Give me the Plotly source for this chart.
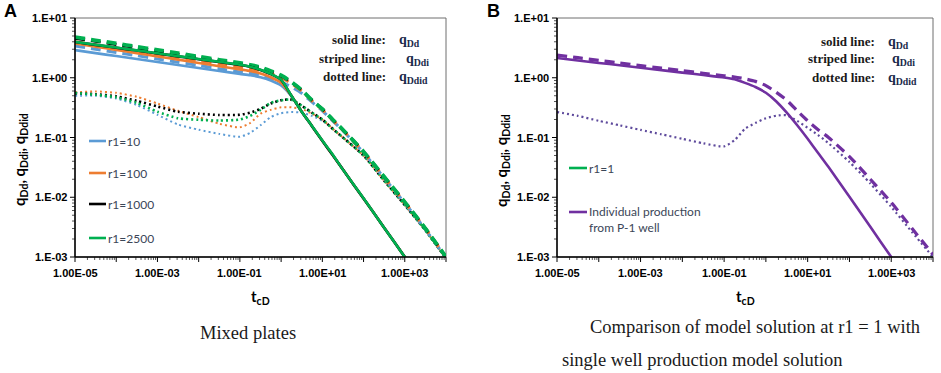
import math
import plotly.graph_objects as go

# ---------------- data ----------------
tD = [1e-5, 3.16e-5, 1e-4, 3.16e-4, 1e-3, 3.16e-3, 1e-2, 3.16e-2, 0.1, 0.178, 0.316, 0.562,
      1, 1.78, 3.16, 5.62, 10, 17.8, 31.6, 100, 316, 1000, 3160, 10000]

# Panel A : solid q_Dd
qDd_r10   = [2.9, 2.58, 2.31, 2.06, 1.83, 1.63, 1.46, 1.30, 1.16, 1.10, 1.02, 0.90, 0.74, 0.49, 0.27, 0.155, 0.088, 0.051, 0.029, 0.0095, 0.0031, 0.001, 0.00032, 0.0001]
qDd_r100  = [3.75, 3.31, 2.92, 2.58, 2.28, 2.01, 1.77, 1.56, 1.38, 1.30, 1.18, 1.02, 0.82, 0.50, 0.27, 0.155, 0.088, 0.051, 0.029, 0.0095, 0.0031, 0.001, 0.00032, 0.0001]
qDd_r1000 = [3.96, 3.55, 3.18, 2.85, 2.55, 2.28, 2.04, 1.83, 1.63, 1.52, 1.35, 1.15, 0.92, 0.50, 0.27, 0.155, 0.088, 0.051, 0.029, 0.0095, 0.0031, 0.001, 0.00032, 0.0001]
qDd_r2500 = [3.98, 3.57, 3.20, 2.87, 2.57, 2.30, 2.06, 1.85, 1.65, 1.53, 1.36, 1.16, 0.93, 0.50, 0.27, 0.156, 0.089, 0.052, 0.029, 0.0096, 0.0031, 0.001, 0.00032, 0.0001]
# Panel A : striped q_Ddi
qDdi_r10   = [3.4, 3.0, 2.65, 2.34, 2.06, 1.82, 1.61, 1.42, 1.25, 1.19, 1.10, 0.98, 0.85, 0.70, 0.55, 0.39, 0.28, 0.19, 0.13, 0.056, 0.021, 0.008, 0.0029, 0.00097]
qDdi_r100  = [4.0, 3.54, 3.13, 2.77, 2.45, 2.17, 1.92, 1.69, 1.50, 1.42, 1.32, 1.18, 1.0, 0.80, 0.60, 0.41, 0.29, 0.195, 0.132, 0.057, 0.0215, 0.0082, 0.003, 0.00099]
qDdi_r1000 = [4.6, 4.07, 3.6, 3.18, 2.8, 2.48, 2.18, 1.92, 1.70, 1.59, 1.45, 1.27, 1.07, 0.84, 0.62, 0.42, 0.30, 0.20, 0.135, 0.058, 0.022, 0.0083, 0.003, 0.001]
qDdi_r2500 = [4.8, 4.24, 3.75, 3.31, 2.92, 2.58, 2.27, 2.0, 1.77, 1.65, 1.50, 1.30, 1.10, 0.85, 0.62, 0.42, 0.30, 0.20, 0.135, 0.058, 0.022, 0.0083, 0.003, 0.001]
# Panel A : dotted q_Ddid
qDdid_r10   = [0.50, 0.50, 0.45, 0.35, 0.24, 0.165, 0.135, 0.115, 0.103, 0.12, 0.16, 0.22, 0.255, 0.267, 0.26, 0.23, 0.19, 0.14, 0.10, 0.05, 0.019, 0.0074, 0.0028, 0.00095]
qDdid_r100  = [0.57, 0.59, 0.56, 0.48, 0.37, 0.28, 0.22, 0.17, 0.148, 0.175, 0.25, 0.29, 0.32, 0.32, 0.30, 0.25, 0.20, 0.14, 0.10, 0.05, 0.019, 0.0074, 0.0028, 0.00095]
qDdid_r1000 = [0.55, 0.53, 0.49, 0.41, 0.33, 0.27, 0.25, 0.238, 0.24, 0.26, 0.30, 0.37, 0.42, 0.43, 0.34, 0.26, 0.20, 0.14, 0.10, 0.05, 0.019, 0.0074, 0.0028, 0.00095]
qDdid_r2500 = [0.556, 0.52, 0.47, 0.38, 0.27, 0.21, 0.198, 0.192, 0.20, 0.23, 0.29, 0.38, 0.42, 0.43, 0.34, 0.26, 0.20, 0.14, 0.10, 0.05, 0.019, 0.0074, 0.0028, 0.00095]

# Panel B : r1 = 1
qDd_r1   = [2.14, 1.95, 1.77, 1.62, 1.47, 1.34, 1.22, 1.11, 1.01, 0.94, 0.82, 0.70, 0.56, 0.40, 0.26, 0.16, 0.095, 0.055, 0.032, 0.0102, 0.0032, 0.001, 0.00032, 0.0001]
qDdi_r1  = [2.4, 2.17, 1.95, 1.77, 1.6, 1.45, 1.32, 1.19, 1.08, 1.03, 0.96, 0.87, 0.74, 0.57, 0.42, 0.28, 0.19, 0.135, 0.10, 0.048, 0.02, 0.0082, 0.003, 0.0011]
qDdid_r1 = [0.267, 0.23, 0.19, 0.16, 0.134, 0.113, 0.095, 0.08, 0.071, 0.09, 0.14, 0.175, 0.21, 0.232, 0.235, 0.19, 0.145, 0.11, 0.08, 0.039, 0.017, 0.0069, 0.0026, 0.001]

x_tickvals = [1e-5, 1e-3, 1e-1, 10, 1000]
x_ticktext = ["1.00E-05", "1.00E-03", "1.00E-01", "1.00E+01", "1.00E+03"]
y_tickvals = [1e-3, 1e-2, 1e-1, 1, 10]
y_ticktext = ["1.E-03", "1.E-02", "1.E-01", "1.E+00", "1.E+01"]

legend_A = ["r1=10", "r1=100", "r1=1000", "r1=2500"]
legend_B = ["r1=1", "Individual production<br>from P-1 well"]

# ---------------- styling ----------------
W, H = 941, 373
XR = [-5, 4]
YR = [-3, 1]
BLUE, ORANGE, BLACK, GREEN = "#5B9BD5", "#ED7D31", "#000000", "#00B050"
PURPLE, PURPLE_DOT = "#7030A0", "#5E4A9C"
colorsA = [BLUE, ORANGE, BLACK, GREEN]

def px(x):
    return x / W

def py(y):
    return 1 - y / H

def fx(v):
    return (math.log10(v) - XR[0]) / (XR[1] - XR[0])

def fy(v):
    return (math.log10(v) - YR[0]) / (YR[1] - YR[0])

fig = go.Figure()

solidA = [qDd_r10, qDd_r100, qDd_r1000, qDd_r2500]
dashA = [qDdi_r10, qDdi_r100, qDdi_r1000, qDdi_r2500]
dotA = [qDdid_r10, qDdid_r100, qDdid_r1000, qDdid_r2500]

for i, (ys, c) in enumerate(zip(dotA, colorsA)):
    w = 2.0 if i < 2 else 2.6
    fig.add_trace(go.Scatter(x=tD, y=ys, mode="lines", line=dict(color=c, width=w, dash="2px,3px", shape="spline", smoothing=0.6),
                             showlegend=False, xaxis="x", yaxis="y", hoverinfo="skip"))
for i, (ys, c) in enumerate(zip(dashA, colorsA)):
    w = 3.0 if i < 3 else 3.8
    fig.add_trace(go.Scatter(x=tD, y=ys, mode="lines", line=dict(color=c, width=w, dash="10px,6px", shape="spline", smoothing=0.6),
                             showlegend=False, xaxis="x", yaxis="y", hoverinfo="skip"))
for i, (ys, c) in enumerate(zip(solidA, colorsA)):
    fig.add_trace(go.Scatter(x=tD, y=ys, mode="lines", line=dict(color=c, width=2.6, shape="spline", smoothing=0.6),
                             name=legend_A[i], showlegend=False, xaxis="x", yaxis="y", hoverinfo="skip"))

fig.add_trace(go.Scatter(x=tD, y=qDdid_r1, mode="lines", line=dict(color=PURPLE_DOT, width=2.2, dash="2px,3px", shape="spline", smoothing=0.6),
                         showlegend=False, xaxis="x2", yaxis="y2", hoverinfo="skip"))
fig.add_trace(go.Scatter(x=tD, y=qDdi_r1, mode="lines", line=dict(color=PURPLE, width=3.2, dash="10px,6px", shape="spline", smoothing=0.6),
                         showlegend=False, xaxis="x2", yaxis="y2", hoverinfo="skip"))
fig.add_trace(go.Scatter(x=tD, y=qDd_r1, mode="lines", line=dict(color=PURPLE, width=2.6, shape="spline", smoothing=0.6),
                         showlegend=False, xaxis="x2", yaxis="y2", hoverinfo="skip"))

yd = [py(257), py(18)]
def xax(domain, anchor):
    return dict(type="log", range=XR, domain=domain, anchor=anchor, visible=False, fixedrange=True)

def yax(domain, anchor):
    return dict(type="log", range=YR, domain=domain, anchor=anchor, visible=False, fixedrange=True)

fig.update_layout(
    autosize=True, margin=dict(l=0, r=0, t=0, b=0),
    paper_bgcolor="white", plot_bgcolor="white", showlegend=False,
    xaxis=xax([px(75), px(446)], "y"), yaxis=yax(yd, "x"),
    xaxis2=xax([px(557), px(933)], "y2"), yaxis2=yax(yd, "x2"),
)

shapes = []
ann = []
tickfont = dict(family="Liberation Sans", size=11, color="#000", weight="bold")
PH = 239  # plot-area height in px
for xr, yr, pw in (("x", "y", 371), ("x2", "y2", 376)):
    xd, ydm = xr + " domain", yr + " domain"
    # frame
    shapes.append(dict(type="rect", xref=xd, yref=ydm, x0=0, x1=1, y0=0, y1=1,
                       line=dict(color="#6e6e6e", width=1), layer="below"))
    # x ticks (major every decade, minor 2..9)
    maj = " ".join(f"M{fx(10.0 ** n):.5f},0 L{fx(10.0 ** n):.5f},{-5 / PH:.5f}" for n in range(XR[0], XR[1] + 1))
    mnr = " ".join(f"M{fx(k * 10.0 ** n):.5f},0 L{fx(k * 10.0 ** n):.5f},{-3 / PH:.5f}"
                   for n in range(XR[0], XR[1]) for k in range(2, 10))
    shapes.append(dict(type="path", xref=xd, yref=ydm, path=maj, line=dict(color="#000", width=1)))
    shapes.append(dict(type="path", xref=xd, yref=ydm, path=mnr, line=dict(color="#555", width=1)))
    # y ticks
    maj = " ".join(f"M0,{fy(10.0 ** n):.5f} L{-5 / pw:.5f},{fy(10.0 ** n):.5f}" for n in range(YR[0], YR[1] + 1))
    mnr = " ".join(f"M0,{fy(k * 10.0 ** n):.5f} L{-3 / pw:.5f},{fy(k * 10.0 ** n):.5f}"
                   for n in range(YR[0], YR[1]) for k in range(2, 10))
    shapes.append(dict(type="path", xref=xd, yref=ydm, path=maj, line=dict(color="#000", width=1)))
    shapes.append(dict(type="path", xref=xd, yref=ydm, path=mnr, line=dict(color="#555", width=1)))
    # axis lines
    shapes.append(dict(type="line", xref=xd, yref=ydm, x0=0, x1=0, y0=0, y1=1, line=dict(color="#000", width=1.5)))
    shapes.append(dict(type="line", xref=xd, yref=ydm, x0=0, x1=1, y0=0, y1=0, line=dict(color="#000", width=1.5)))
    # tick labels
    for v, t in zip(x_tickvals, x_ticktext):
        ann.append(dict(text=t, x=fx(v), y=0, xref=xd, yref=ydm, xanchor="center", yanchor="top", yshift=-8,
                        showarrow=False, font=tickfont))
    for v, t in zip(y_tickvals, y_ticktext):
        ann.append(dict(text=t, x=0, y=fy(v), xref=xd, yref=ydm, xanchor="right", yanchor="middle", xshift=-6,
                        showarrow=False, font=tickfont))

legfont = dict(family="Lato", size=12, color="#3b4657")
# legend panel A
for name, c, yy in zip(legend_A, colorsA, [141, 173, 204, 238]):
    shapes.append(dict(type="line", xref="paper", yref="paper", x0=px(89), x1=px(106), y0=py(yy), y1=py(yy),
                       line=dict(color=c, width=2.6)))
    ann.append(dict(text=name, x=px(106), y=py(yy), xref="paper", yref="paper", xanchor="left", yanchor="middle",
                    showarrow=False, font=legfont))
# legend panel B
for name, c, yy in zip(legend_B, [GREEN, PURPLE], [168, 212]):
    shapes.append(dict(type="line", xref="paper", yref="paper", x0=px(569), x1=px(587), y0=py(yy), y1=py(yy),
                       line=dict(color=c, width=2.6)))
    ann.append(dict(text=name, x=px(587), y=py(yy + (8 if "<br>" in name else 0)), xref="paper", yref="paper",
                    xanchor="left", yanchor="middle", align="left", showarrow=False, font=legfont))

# style explanation text
serif_b = dict(family="Liberation Serif", size=13, color="#1a1a1a", weight="bold")
qfont = dict(family="Liberation Serif", size=14, color="#1a2a4a", weight="bold")
for (lx, qx), rows in (((388, 397), [("solid line:", "q<sub>Dd</sub>", 40, 0), ("striped line:", "q<sub>Ddi</sub>", 58, 7), ("dotted line:", "q<sub>Ddid</sub>", 76, 0)]),
                       ((877, 886), [("solid line:", "q<sub>Dd</sub>", 42, 0), ("striped line:", "q<sub>Ddi</sub>", 58, 4), ("dotted line:", "q<sub>Ddid</sub>", 77, 0)])):
    for lab, q, yy, off in rows:
        ann.append(dict(text=lab, x=px(lx), y=py(yy), xref="paper", yref="paper", xanchor="right", yanchor="middle",
                        showarrow=False, font=serif_b))
        ann.append(dict(text=q, x=px(qx + off), y=py(yy + 1), xref="paper", yref="paper", xanchor="left", yanchor="middle",
                        showarrow=False, font=qfont))

# axis titles
titfont = dict(family="Lato", size=15, color="#000", weight="bold")
for xx in (20, 502):
    ann.append(dict(text="q<sub>Dd</sub>, q<sub>Ddi</sub>, q<sub>Ddid</sub>", x=px(xx), y=py(160), xref="paper", yref="paper",
                    textangle=-90, xanchor="center", yanchor="middle", showarrow=False, font=titfont))
for xx in (260, 745):
    ann.append(dict(text="t<sub>cD</sub>", x=px(xx), y=py(297), xref="paper", yref="paper",
                    xanchor="center", yanchor="middle", showarrow=False, font=titfont))

# panel letters
for lab, xx in (("A", 10), ("B", 494)):
    ann.append(dict(text=lab, x=px(xx), y=py(11), xref="paper", yref="paper", xanchor="center", yanchor="middle",
                    showarrow=False, font=dict(family="Liberation Sans", size=18, color="#000", weight="bold")))

# captions
capfont = dict(family="Liberation Serif", size=18.5, color="#1a1a1a")
ann.append(dict(text="Mixed plates", x=px(248), y=py(333), xref="paper", yref="paper", xanchor="center", yanchor="middle",
                showarrow=False, font=capfont))
ann.append(dict(text="Comparison of model solution at r1 = 1 with", x=px(588), y=py(327), xref="paper", yref="paper",
                xanchor="left", yanchor="middle", showarrow=False, font=capfont))
ann.append(dict(text="single well production model solution", x=px(560), y=py(360), xref="paper", yref="paper",
                xanchor="left", yanchor="middle", showarrow=False, font=capfont))

fig.update_layout(shapes=shapes, annotations=ann)

# make the figure fill the 941x373 window exactly
ps = """
document.documentElement.style.height='100%';document.body.style.height='100%';
document.body.style.margin='0';document.body.style.overflow='hidden';
var gd=document.getElementById('{plot_id}');
Plotly.Plots.resize(gd);
setTimeout(function(){Plotly.Plots.resize(gd);},30);
"""
fig.write_html("out.html", config={"displayModeBar": False, "responsive": True, "staticPlot": True},
               default_width="100%", default_height="100%", post_script=ps)
